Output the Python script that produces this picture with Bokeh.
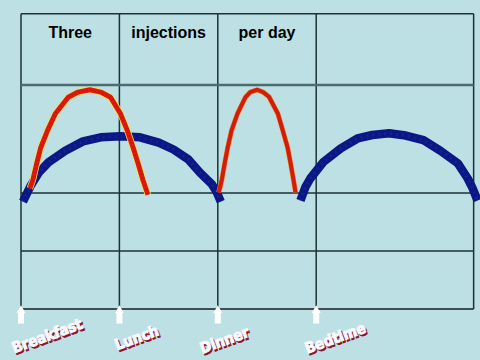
from bokeh.plotting import figure
from bokeh.models import Range1d, ColumnDataSource
from bokeh.core.properties import value
from bokeh.embed import file_html
from bokeh.resources import INLINE

# ---------------- data ----------------
meals = ["Breakfast", "Lunch", "Dinner", "Bedtime"]
meal_x = [0, 1, 2, 3]                      # meal times (column positions)
grid_x = [0, 1, 2, 3, 4.6]                 # vertical grid lines
grid_y = [0, 1, 2, 3.86, 5.09]             # horizontal grid lines
headings = ["Three", "injections", "per day"]
heading_x = [0.5, 1.5, 2.5]

# short-acting insulin peaks (red)
red1_x = [0.09, 0.12, 0.16, 0.20, 0.27, 0.35, 0.48, 0.58, 0.70, 0.81, 0.91, 1.01, 1.08, 1.14, 1.19, 1.24, 1.29]
red1_y = [2.08, 2.22, 2.51, 2.78, 3.08, 3.37, 3.65, 3.74, 3.78, 3.74, 3.65, 3.37, 3.08, 2.78, 2.51, 2.22, 1.97]
red2_x = [2.01, 2.04, 2.07, 2.10, 2.14, 2.20, 2.28, 2.33, 2.40, 2.46, 2.52, 2.61, 2.66, 2.71, 2.74, 2.77, 2.79]
red2_y = [2.01, 2.22, 2.51, 2.78, 3.08, 3.37, 3.65, 3.74, 3.78, 3.74, 3.66, 3.37, 3.08, 2.78, 2.51, 2.22, 2.01]

# intermediate-acting insulin (blue)
blue1_x = [0.02, 0.10, 0.18, 0.28, 0.45, 0.63, 0.81, 1.01, 1.21, 1.40, 1.55, 1.70, 1.82, 1.94, 1.99, 2.03]
blue1_y = [1.85, 2.13, 2.35, 2.53, 2.73, 2.89, 2.96, 2.98, 2.96, 2.87, 2.75, 2.58, 2.35, 2.15, 2.01, 1.85]
blue2_x = [2.84, 2.89, 2.94, 3.07, 3.25, 3.42, 3.57, 3.74, 3.91, 4.09, 4.26, 4.44, 4.54, 4.59, 4.64]
blue2_y = [1.87, 2.10, 2.25, 2.53, 2.77, 2.94, 3.00, 3.03, 2.99, 2.91, 2.73, 2.51, 2.25, 2.08, 1.87]

# ---------------- layout ----------------
W, H = 480, 360
OX, OY = 0, 0                # page offset of the figure
X0PX, XS = 20.5, 98.4        # page px of x=0, px per unit
Y0PX, YS = 308.5, 58.0       # page px of y=0, px per unit
BG = "#bce0e4"

x_start = (OX - X0PX) / XS
x_end = (OX + W - X0PX) / XS
y_end = (Y0PX - OY) / YS
y_start = (Y0PX - OY - H) / YS

p = figure(width=W, height=H, output_backend="svg", toolbar_location=None,
           x_range=Range1d(x_start, x_end), y_range=Range1d(y_start, y_end),
           x_axis_type=None, y_axis_type=None, min_border=0,
           background_fill_color=BG, border_fill_color=BG, outline_line_color=None)
p.grid.visible = False

# grid
gx0 = grid_x[0]
gx1 = grid_x[-1]
gy0 = grid_y[0]
gy1 = grid_y[-1]
p.segment(x0=grid_x, y0=[gy0] * len(grid_x), x1=grid_x, y1=[gy1] * len(grid_x),
          line_color="#1d3234", line_width=1.5)
hcol = ["#141e20", "#1d3234", "#1d3234", "#4e6c70", "#1d3234"]
hwid = [1.6, 1.5, 1.5, 2.5, 1.5]
p.segment(x0=[gx0] * len(grid_y), y0=grid_y, x1=[gx1] * len(grid_y), y1=grid_y,
          line_color=hcol, line_width=hwid)

# blue curves
for bx, by in ((blue1_x, blue1_y), (blue2_x, blue2_y)):
    p.line(bx, by, line_color="#0a1785", line_width=8.5, line_cap="butt", line_join="round")
    p.line(bx, by, line_color="#1a2b9a", line_width=3, line_dash="2 4", line_alpha=0.6)

# red curves
p.line(red1_x, red1_y, line_color="#f3e64a", line_width=6.5, line_join="round")
p.line(red1_x, red1_y, line_color="#dc1a10", line_width=5, line_join="round")
p.line(red1_x, red1_y, line_color="#a81010", line_width=2, line_dash="1 3", line_alpha=0.6)
p.line(red2_x, red2_y, line_color="#f08a20", line_width=5, line_join="round")
p.line(red2_x, red2_y, line_color="#d41c0c", line_width=4, line_join="round")

# headings
head_y = (Y0PX - 32) / YS
p.text(x=heading_x, y=[head_y] * 3, text=headings, text_align="center",
       text_baseline="alphabetic", text_font=value("Liberation Sans"),
       text_font_style="bold", text_font_size="16px", text_color="black")

# arrows under the meal times
shaft_y = (Y0PX - 316.5) / YS
head_tip_y = (Y0PX - 310.0) / YS
p.rect(x=meal_x, y=[shaft_y] * 4, width=6, height=13, width_units="screen",
       height_units="screen", fill_color="white", line_color=None)
p.scatter(x=meal_x, y=[head_tip_y] * 4, marker="triangle", size=9,
          fill_color="white", line_color=None)

# meal labels (rotated, shadowed)
lab = ColumnDataSource(dict(x=meal_x, y=[0] * 4, text=meals,
                            dx=[-8.5, -4, -17.3, -10.7], dy=[39.5, 36.5, 40, 40]))
font = value("DejaVu Sans Condensed")
lab.data["dx2"] = [d + 1.6 for d in lab.data["dx"]]
lab.data["dy2"] = [d + 1.8 for d in lab.data["dy"]]
p.text(x="x", y="y", text="text", source=lab, x_offset="dx2", y_offset="dy2",
       angle=20, angle_units="deg", text_align="left", text_baseline="alphabetic",
       text_font=font, text_font_style="bold", text_font_size="15px",
       text_color="#8a1428", text_outline_color="#8a1428")
p.text(x="x", y="y", text="text", source=lab, x_offset="dx", y_offset="dy",
       angle=20, angle_units="deg", text_align="left", text_baseline="alphabetic",
       text_font=font, text_font_style="bold", text_font_size="15px",
       text_color="#f6f9ff", text_outline_color="#f6f9ff")

html = file_html(p, INLINE, title="Three injections per day")
html = html.replace("</head>", "<style>html,body{background:%s;}</style></head>" % BG, 1)
open("out.html", "w").write(html)
